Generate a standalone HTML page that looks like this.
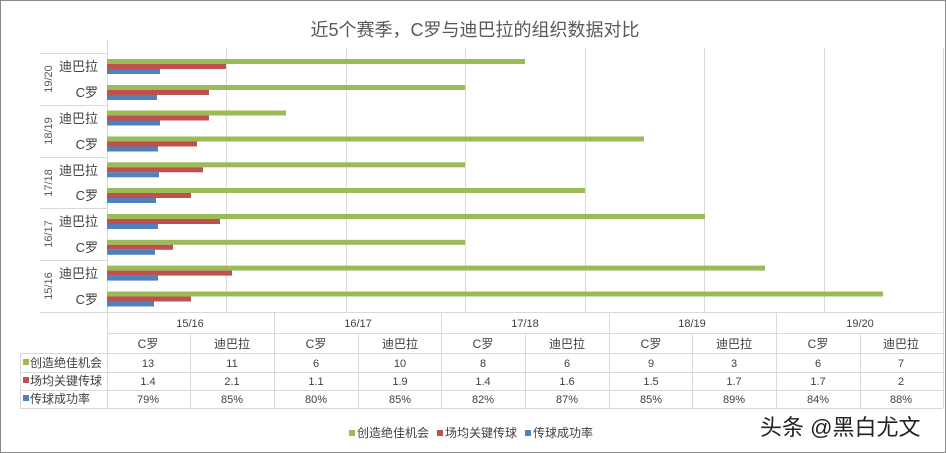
<!DOCTYPE html>
<html><head><meta charset="utf-8"><style>
html,body{margin:0;padding:0;background:#fff;}
svg{display:block;font-family:"Liberation Sans","Noto Sans CJK SC",sans-serif;}
</style></head><body>
<svg width="946" height="453" viewBox="0 0 946 453" xmlns="http://www.w3.org/2000/svg">
<rect x="0.5" y="0.5" width="945" height="452" fill="#fff" stroke="#8a8a8a"/>
<text x="475" y="36" text-anchor="middle" font-size="18" fill="#595959">近5个赛季，C罗与迪巴拉的组织数据对比</text>
<g stroke="#d9d9d9" stroke-width="1">
<line x1="226.5" y1="48" x2="226.5" y2="312"/>
<line x1="346.5" y1="48" x2="346.5" y2="312"/>
<line x1="465.5" y1="48" x2="465.5" y2="312"/>
<line x1="585.5" y1="48" x2="585.5" y2="312"/>
<line x1="704.5" y1="48" x2="704.5" y2="312"/>
<line x1="824.5" y1="48" x2="824.5" y2="312"/>
<line x1="943.5" y1="48" x2="943.5" y2="312"/>
<line x1="107.5" y1="40" x2="107.5" y2="408"/>
<line x1="40" y1="53.5" x2="107" y2="53.5"/>
<line x1="40" y1="105.5" x2="107" y2="105.5"/>
<line x1="40" y1="157.5" x2="107" y2="157.5"/>
<line x1="40" y1="208.5" x2="107" y2="208.5"/>
<line x1="40" y1="260.5" x2="107" y2="260.5"/>
<line x1="40" y1="312.5" x2="943" y2="312.5"/>
<line x1="107" y1="333.5" x2="943" y2="333.5"/>
<line x1="20" y1="353.5" x2="943" y2="353.5"/>
<line x1="20" y1="372.5" x2="943" y2="372.5"/>
<line x1="20" y1="390.5" x2="943" y2="390.5"/>
<line x1="20" y1="408.5" x2="943" y2="408.5"/>
<line x1="20.5" y1="353" x2="20.5" y2="408"/>
<line x1="274.5" y1="312" x2="274.5" y2="408"/>
<line x1="441.5" y1="312" x2="441.5" y2="408"/>
<line x1="609.5" y1="312" x2="609.5" y2="408"/>
<line x1="776.5" y1="312" x2="776.5" y2="408"/>
<line x1="943.5" y1="312" x2="943.5" y2="408"/>
<line x1="190.5" y1="333" x2="190.5" y2="408"/>
<line x1="358.5" y1="333" x2="358.5" y2="408"/>
<line x1="525.5" y1="333" x2="525.5" y2="408"/>
<line x1="692.5" y1="333" x2="692.5" y2="408"/>
<line x1="860.5" y1="333" x2="860.5" y2="408"/>
</g>
<g>
<rect x="107" y="59" width="418" height="5" fill="#9bbb59"/><rect x="107" y="64" width="119" height="5" fill="#c0504d"/><rect x="107" y="69" width="53" height="5" fill="#4f81bd"/>
<rect x="107" y="85" width="358" height="5" fill="#9bbb59"/><rect x="107" y="90" width="102" height="5" fill="#c0504d"/><rect x="107" y="95" width="50" height="5" fill="#4f81bd"/>
<rect x="107" y="110.5" width="179" height="5" fill="#9bbb59"/><rect x="107" y="115.5" width="102" height="5" fill="#c0504d"/><rect x="107" y="120.5" width="53" height="5" fill="#4f81bd"/>
<rect x="107" y="136.5" width="537" height="5" fill="#9bbb59"/><rect x="107" y="141.5" width="90" height="5" fill="#c0504d"/><rect x="107" y="146.5" width="51" height="5" fill="#4f81bd"/>
<rect x="107" y="162.3" width="358" height="5" fill="#9bbb59"/><rect x="107" y="167.3" width="96" height="5" fill="#c0504d"/><rect x="107" y="172.3" width="52" height="5" fill="#4f81bd"/>
<rect x="107" y="188" width="478" height="5" fill="#9bbb59"/><rect x="107" y="193" width="84" height="5" fill="#c0504d"/><rect x="107" y="198" width="49" height="5" fill="#4f81bd"/>
<rect x="107" y="214" width="598" height="5" fill="#9bbb59"/><rect x="107" y="219" width="113" height="5" fill="#c0504d"/><rect x="107" y="224" width="51" height="5" fill="#4f81bd"/>
<rect x="107" y="239.8" width="358" height="5" fill="#9bbb59"/><rect x="107" y="244.8" width="66" height="5" fill="#c0504d"/><rect x="107" y="249.8" width="48" height="5" fill="#4f81bd"/>
<rect x="107" y="265.6" width="658" height="5" fill="#9bbb59"/><rect x="107" y="270.6" width="125" height="5" fill="#c0504d"/><rect x="107" y="275.6" width="51" height="5" fill="#4f81bd"/>
<rect x="107" y="291.5" width="776" height="5" fill="#9bbb59"/><rect x="107" y="296.5" width="84" height="5" fill="#c0504d"/><rect x="107" y="301.5" width="47" height="5" fill="#4f81bd"/>
</g>
<g font-size="13" fill="#404040" text-anchor="end">
<text x="98" y="71">迪巴拉</text><text x="98" y="97">C罗</text>
<text x="98" y="123">迪巴拉</text><text x="98" y="149">C罗</text>
<text x="98" y="175">迪巴拉</text><text x="98" y="200">C罗</text>
<text x="98" y="226">迪巴拉</text><text x="98" y="252">C罗</text>
<text x="98" y="278">迪巴拉</text><text x="98" y="304">C罗</text>
</g>
<g font-size="11" fill="#595959" text-anchor="middle">
<text transform="translate(52,79) rotate(-90)">19/20</text>
<text transform="translate(52,131) rotate(-90)">18/19</text>
<text transform="translate(52,183) rotate(-90)">17/18</text>
<text transform="translate(52,234) rotate(-90)">16/17</text>
<text transform="translate(52,286) rotate(-90)">15/16</text>
</g>
<g font-size="11" fill="#404040" text-anchor="middle">
<text x="190" y="327">15/16</text><text x="358" y="327">16/17</text><text x="525" y="327">17/18</text><text x="692" y="327">18/19</text><text x="860" y="327">19/20</text>
</g>
<g font-size="12" fill="#404040" text-anchor="middle">
<text x="148" y="348">C罗</text><text x="232" y="348">迪巴拉</text><text x="316" y="348">C罗</text><text x="400" y="348">迪巴拉</text><text x="483" y="348">C罗</text><text x="567" y="348">迪巴拉</text><text x="651" y="348">C罗</text><text x="734" y="348">迪巴拉</text><text x="818" y="348">C罗</text><text x="901" y="348">迪巴拉</text>
</g>
<g font-size="11" fill="#404040" text-anchor="middle">
<text x="148" y="367">13</text><text x="232" y="367">11</text><text x="316" y="367">6</text><text x="400" y="367">10</text><text x="483" y="367">8</text><text x="567" y="367">6</text><text x="651" y="367">9</text><text x="734" y="367">3</text><text x="818" y="367">6</text><text x="901" y="367">7</text>
<text x="148" y="385">1.4</text><text x="232" y="385">2.1</text><text x="316" y="385">1.1</text><text x="400" y="385">1.9</text><text x="483" y="385">1.4</text><text x="567" y="385">1.6</text><text x="651" y="385">1.5</text><text x="734" y="385">1.7</text><text x="818" y="385">1.7</text><text x="901" y="385">2</text>
<text x="148" y="403">79%</text><text x="232" y="403">85%</text><text x="316" y="403">80%</text><text x="400" y="403">85%</text><text x="483" y="403">82%</text><text x="567" y="403">87%</text><text x="651" y="403">85%</text><text x="734" y="403">89%</text><text x="818" y="403">84%</text><text x="901" y="403">88%</text>
</g>
<g font-size="12" fill="#404040">
<rect x="23" y="359" width="6" height="6" fill="#9bbb59"/><text x="30" y="367">创造绝佳机会</text>
<rect x="23" y="377" width="6" height="6" fill="#c0504d"/><text x="30" y="385">场均关键传球</text>
<rect x="23" y="395" width="6" height="6" fill="#4f81bd"/><text x="30" y="403">传球成功率</text>
</g>
<g font-size="12" fill="#404040">
<rect x="349" y="430" width="6" height="6" fill="#9bbb59"/><text x="357" y="437">创造绝佳机会</text>
<rect x="437" y="430" width="6" height="6" fill="#c0504d"/><text x="445" y="437">场均关键传球</text>
<rect x="525" y="430" width="6" height="6" fill="#4f81bd"/><text x="533" y="437">传球成功率</text>
</g>
<text x="760" y="435" font-size="22" fill="#222" stroke="#fff" stroke-width="3" paint-order="stroke">头条 @黑白尤文</text>
</svg>
</body></html>
